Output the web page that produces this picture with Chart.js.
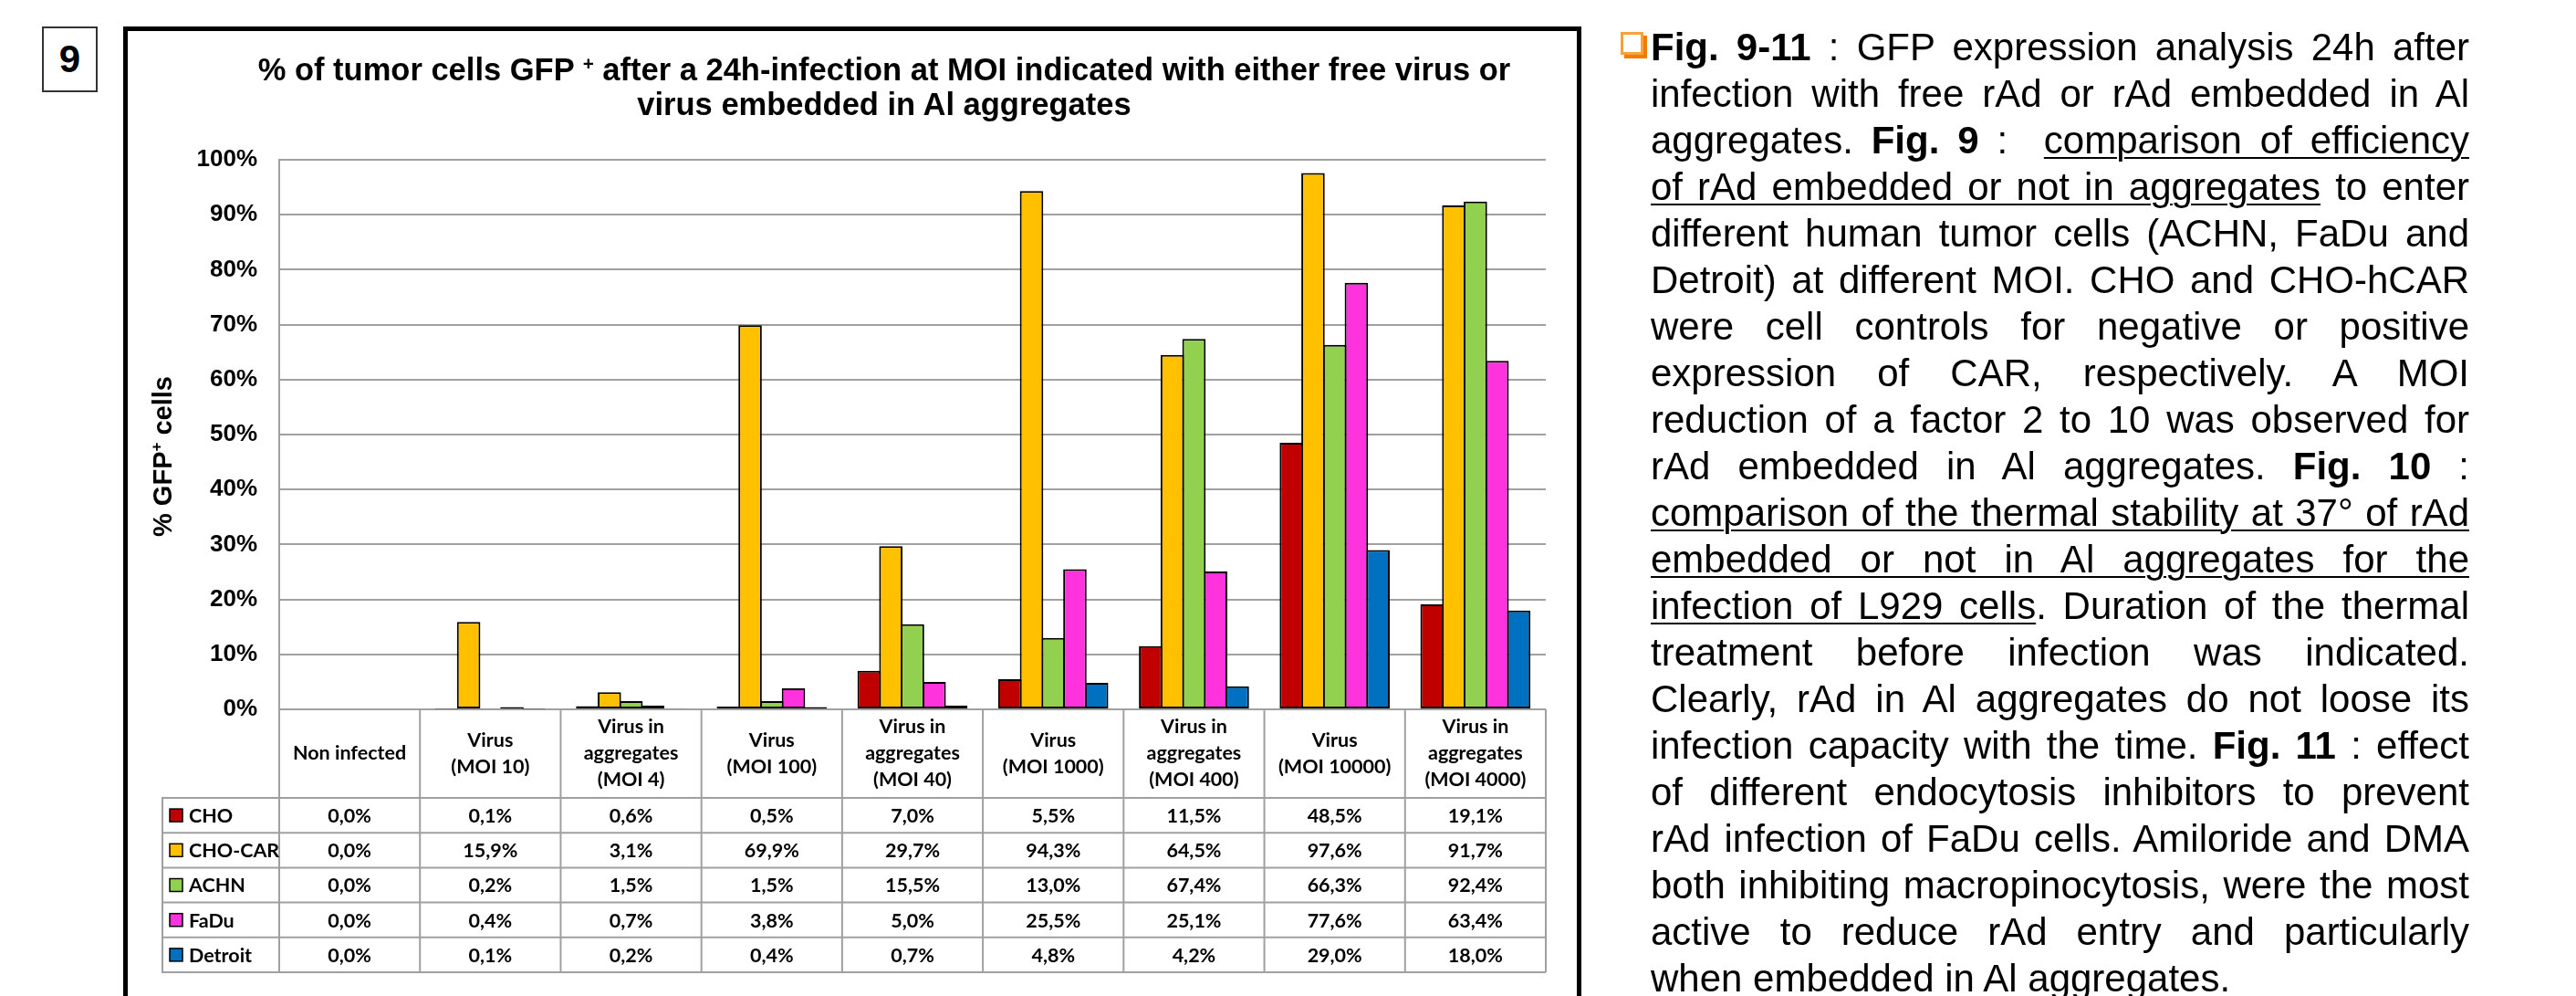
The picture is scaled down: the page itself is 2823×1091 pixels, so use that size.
<!DOCTYPE html>
<html>
<head>
<meta charset="utf-8">
<script src="https://cdn.jsdelivr.net/npm/chart.js@4.4.1/dist/chart.umd.min.js"></script>
<style>
  html, body { margin: 0; padding: 0; background: #fff; }
  body { width: 2823px; height: 1091px; position: relative; overflow: hidden; font-family: "Liberation Sans", Arial, sans-serif; color: #000; }
  #figNum { position: absolute; left: 46px; top: 29px; width: 61px; height: 72px; box-sizing: border-box; border: 2px solid #333; font: bold 42px "Liberation Sans", Arial, sans-serif; text-align: center; line-height: 68px; }
  #frame { position: absolute; left: 135px; top: 29px; width: 1598px; height: 1200px; box-sizing: border-box; border: 5px solid #000; }
  #title { position: absolute; left: 269px; width: 1400px; top: 57px; text-align: center; white-space: nowrap; font: bold 34.5px "Liberation Sans", Arial, sans-serif; line-height: 38px; }
  #title sup { font-size: 60%; line-height: 0; vertical-align: 0.55em; }
  #chart { position: absolute; left: 0; top: 0; }
  #notes { position: absolute; left: 1809px; top: 26px; width: 897px; font: 42px "Liberation Sans", Arial, sans-serif; line-height: 51px; }
  #notes div { text-align: justify; text-align-last: justify; }
  #notes div.last { text-align: left; text-align-last: left; }
  #notes u { text-decoration-thickness: 2px; text-underline-offset: 4px; }
  #box { position: absolute; left: 1776px; top: 35px; width: 25px; height: 25px; box-sizing: border-box; border: 3px solid #f7a23a; box-shadow: 4px 4px 0 #ee7d00; }
</style>
</head>
<body>
<div id="figNum">9</div>
<div id="frame"></div>
<canvas id="chart" width="2823" height="1091"></canvas>
<div id="title">% of tumor cells GFP <sup>+</sup> after a 24h-infection at MOI indicated with either free virus or<br>virus embedded in Al aggregates</div>
<div id="box"></div>
<div id="notes">
  <div><b>Fig. 9-11</b> : GFP expression analysis 24h after</div>
  <div>infection with free rAd or rAd embedded in Al</div>
  <div>aggregates. <b>Fig. 9</b> : &nbsp;<u>comparison of efficiency</u></div>
  <div><u>of rAd embedded or not in aggregates</u> to enter</div>
  <div>different human tumor cells (ACHN, FaDu and</div>
  <div>Detroit) at different MOI. CHO and CHO-hCAR</div>
  <div>were cell controls for negative or positive</div>
  <div>expression of CAR, respectively. A MOI</div>
  <div>reduction of a factor 2 to 10 was observed for</div>
  <div>rAd embedded in Al aggregates. <b>Fig. 10</b> :</div>
  <div><u>comparison of the thermal stability at 37° of rAd</u></div>
  <div><u>embedded or not in Al aggregates for the</u></div>
  <div><u>infection of L929 cells</u>. Duration of the thermal</div>
  <div>treatment before infection was indicated.</div>
  <div>Clearly, rAd in Al aggregates do not loose its</div>
  <div>infection capacity with the time. <b>Fig. 11</b> : effect</div>
  <div>of different endocytosis inhibitors to prevent</div>
  <div>rAd infection of FaDu cells. Amiloride and DMA</div>
  <div>both inhibiting macropinocytosis, were the most</div>
  <div>active to reduce rAd entry and particularly</div>
  <div class="last">when embedded in Al aggregates.</div>
</div>
<script>
// categories (header lines of the data table)
const categories = [
  ["Non infected"],
  ["Virus", "(MOI 10)"],
  ["Virus in", "aggregates", "(MOI 4)"],
  ["Virus", "(MOI 100)"],
  ["Virus in", "aggregates", "(MOI 40)"],
  ["Virus", "(MOI 1000)"],
  ["Virus in", "aggregates", "(MOI 400)"],
  ["Virus", "(MOI 10000)"],
  ["Virus in", "aggregates", "(MOI 4000)"]
];

// % GFP+ cells per cell line
const cho     = [0.0, 0.1, 0.6, 0.5, 7.0, 5.5, 11.5, 48.5, 19.1];
const choCar  = [0.0, 15.9, 3.1, 69.9, 29.7, 94.3, 64.5, 97.6, 91.7];
const achn    = [0.0, 0.2, 1.5, 1.5, 15.5, 13.0, 67.4, 66.3, 92.4];
const fadu    = [0.0, 0.4, 0.7, 3.8, 5.0, 25.5, 25.1, 77.6, 63.4];
const detroit = [0.0, 0.1, 0.2, 0.4, 0.7, 4.8, 4.2, 29.0, 18.0];

const yTickLabels = ["0%", "10%", "20%", "30%", "40%", "50%", "60%", "70%", "80%", "90%", "100%"];

const colorMapping = {
  "CHO": "#c00000",
  "CHO-CAR": "#ffc000",
  "ACHN": "#92d050",
  "FaDu": "#ff33dd",
  "Detroit": "#0070c0"
};

const gridColor = "#a0a0a0";
const arial = "'Liberation Sans', Arial, sans-serif";
const tableFont = "bold 21.5px Lato, 'Open Sans', sans-serif";

function makeSet(label, values) {
  return {
    label: label,
    data: values,
    backgroundColor: colorMapping[label],
    borderColor: "#000",
    borderWidth: 2,
    borderSkipped: false,
    categoryPercentage: 0.77,
    barPercentage: 1.08 // slight overlap so neighbouring outlines merge
  };
}

function fmt(v) {
  return v.toFixed(1).replace(".", ",") + "%";
}

// y axis title with superscript +
const yTitlePlugin = {
  id: "yTitle",
  afterDraw(chart) {
    const ctx = chart.ctx;
    ctx.save();
    ctx.translate(180, 500);
    ctx.rotate(-Math.PI / 2);
    ctx.fillStyle = "#000";
    ctx.textBaseline = "middle";
    ctx.textAlign = "left";
    const big = "bold 29px " + arial;
    const small = "bold 17px " + arial;
    ctx.font = big;
    const wA = ctx.measureText("% GFP").width;
    const wC = ctx.measureText(" cells").width;
    ctx.font = small;
    const wB = ctx.measureText("+").width;
    let x0 = -(wA + wB + wC) / 2;
    ctx.font = big;
    ctx.fillText("% GFP", x0, 0);
    ctx.font = small;
    ctx.fillText("+", x0 + wA, -8);
    ctx.font = big;
    ctx.fillText(" cells", x0 + wA + wB, 0);
    ctx.restore();
  }
};

// data table under the plot, columns follow the category scale
const tablePlugin = {
  id: "dataTable",
  afterDraw(chart) {
    const ctx = chart.ctx;
    const area = chart.chartArea;
    const xs = chart.scales.x;
    const colW = area.width / categories.length;
    const headTop = area.bottom;
    const headBottom = 874;
    const rowH = 38.2;
    const tableLeft = 178;
    const sets = chart.data.datasets;
    const tableBottom = headBottom + rowH * sets.length;

    ctx.save();
    ctx.strokeStyle = gridColor;
    ctx.lineWidth = 2;
    ctx.beginPath();
    for (let i = 0; i <= categories.length; i++) {
      const px = area.left + i * colW;
      ctx.moveTo(px, headTop);
      ctx.lineTo(px, tableBottom);
    }
    ctx.moveTo(tableLeft, headBottom);
    ctx.lineTo(tableLeft, tableBottom);
    for (let r = 0; r <= sets.length; r++) {
      const py = headBottom + r * rowH;
      ctx.moveTo(tableLeft - 1, py);
      ctx.lineTo(area.right, py);
    }
    ctx.stroke();

    ctx.fillStyle = "#000";
    ctx.font = tableFont;
    ctx.textAlign = "center";
    ctx.textBaseline = "middle";
    const mid = (headTop + headBottom) / 2;
    categories.forEach(function (lines, i) {
      const cx = xs.getPixelForValue(i);
      lines.forEach(function (t, k) {
        ctx.fillText(t, cx, mid + (k - (lines.length - 1) / 2) * 29);
      });
    });

    sets.forEach(function (ds, r) {
      const cy = headBottom + r * rowH + rowH / 2;
      ctx.fillStyle = ds.backgroundColor;
      ctx.fillRect(186, cy - 7, 14, 14);
      ctx.strokeStyle = "#000";
      ctx.lineWidth = 1.5;
      ctx.strokeRect(186, cy - 7, 14, 14);
      ctx.fillStyle = "#000";
      ctx.textAlign = "left";
      ctx.fillText(ds.label, 207, cy + 1);
      ctx.textAlign = "center";
      ds.data.forEach(function (v, i) {
        ctx.fillText(fmt(v), xs.getPixelForValue(i), cy + 1);
      });
    });
    ctx.restore();
  }
};

window.addEventListener("load", function () {
  const ctx = document.getElementById("chart").getContext("2d");
  new Chart(ctx, {
    type: "bar",
    data: {
      labels: categories.map(function (c) { return c.join(" "); }),
      datasets: [
        makeSet("CHO", cho),
        makeSet("CHO-CAR", choCar),
        makeSet("ACHN", achn),
        makeSet("FaDu", fadu),
        makeSet("Detroit", detroit)
      ]
    },
    options: {
      responsive: false,
      animation: false,
      layout: {
        padding: { left: 0, top: 175, right: 1129, bottom: 0 }
      },
      plugins: {
        legend: { display: false },
        tooltip: { enabled: false },
        title: { display: false }
      },
      scales: {
        x: {
          ticks: { display: false },
          grid: { display: false },
          border: { display: false },
          afterFit: function (s) { s.height = 314; }
        },
        y: {
          min: 0,
          max: 100,
          ticks: {
            stepSize: 10,
            padding: 24,
            color: "#000",
            font: { family: arial, size: 26, weight: "bold" },
            callback: function (v, i) { return yTickLabels[i]; }
          },
          grid: { color: gridColor, lineWidth: 2, drawTicks: false },
          border: { display: true, color: gridColor, width: 2 },
          afterFit: function (s) { s.width = 306; }
        }
      }
    },
    plugins: [tablePlugin, yTitlePlugin]
  });
});
</script>
</body>
</html>
